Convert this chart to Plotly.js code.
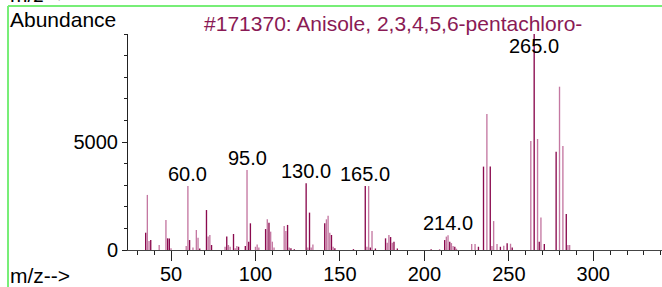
<!DOCTYPE html>
<html>
<head>
<meta charset="utf-8">
<script src="https://cdn.plot.ly/plotly-3.0.1.min.js"></script>
<style>html,body{margin:0;padding:0;background:#fff;}#chart{width:662px;height:287px;}</style>
</head>
<body>
<div id="chart"></div>
<script>
// Spectrum lines drawn in the dark colour
var darkMz  = [35,38,48,49,61,67,71,74,83,87,90,94,96,97,106,108,119,121,123,130,132,141,145,147,158,165,168,171,177,180,182,184,204,212,215,218,232,235,239,245,249,252,265,268,271,278,284];
var darkAb  = [800,460,540,530,460,70,1850,230,620,740,150,185,385,1235,970,1265,1160,80,40,3085,1730,1235,695,80,40,2960,115,70,540,600,385,70,40,460,385,150,150,3860,3860,150,310,120,10000,385,280,4550,1665];
// Spectrum lines drawn in the light colour
var lightMz = [36,37,43,47,50,59,60,63,65,66,72,73,82,84,85,88,89,95,100,101,102,107,109,110,111,117,118,120,131,133,134,142,143,144,146,166,167,169,178,179,181,209,213,214,216,217,219,228,230,237,240,241,243,247,251,263,267,269,280,282,285,286];
var lightAb = [2550,420,230,1390,80,185,2960,120,925,570,620,695,150,230,150,80,185,3700,150,260,120,1420,850,385,120,1110,880,120,120,120,260,1420,1590,800,150,150,2960,880,340,700,340,40,620,680,320,185,60,280,280,6300,185,1340,280,200,290,5045,5140,1510,7560,4815,230,230];
// Labelled peaks
var labelMz = [60,95,130,165,214,265];
var labelAb = [2960,3700,3085,2960,680,10000];
var labelText = ["60.0","95.0","130.0","165.0","214.0","265.0"];

var titleText = "#171370: Anisole, 2,3,4,5,6-pentachloro-";
var yTickVals = [0,5000];
var yTickText = ["0","5000"];

var FONT = "Liberation Sans, Arial, sans-serif";
var DARK = "#8a0a4e";
var LIGHT = "#c478a2";
var YMAX = 10000;

var traces = [
  {type:"bar", x:lightMz, y:lightAb, width:0.8, marker:{color:LIGHT, line:{width:0}}, hoverinfo:"x+y"},
  {type:"bar", x:darkMz, y:darkAb, width:0.8, marker:{color:DARK, line:{width:0}}, hoverinfo:"x+y"}
];

var annotations = labelMz.map(function(m,i){
  return {x:m, y:Math.min(labelAb[i], YMAX-1100), xref:"x", yref:"y", text:labelText[i],
          showarrow:false, xanchor:"center", yanchor:"bottom", yshift:-1,
          font:{family:FONT, size:20, color:"#000"}};
});
annotations.push({xref:"paper", yref:"paper", x:-0.2247, y:1.069, xanchor:"left", yanchor:"middle",
  text:"Abundance", showarrow:false, font:{family:FONT, size:21, color:"#000"}});
annotations.push({xref:"paper", yref:"paper", x:-0.2247, y:-0.118, xanchor:"left", yanchor:"middle",
  text:"m/z-->", showarrow:false, font:{family:FONT, size:21, color:"#000"}});
annotations.push({xref:"paper", yref:"paper", x:-0.2247, y:1.181, xanchor:"left", yanchor:"middle",
  text:"m/z-->", showarrow:false, font:{family:FONT, size:21, color:"#000"}});

var layout = {
  width:662, height:287,
  margin:{l:128, r:0, t:34, b:37, pad:0},
  paper_bgcolor:"#fff", plot_bgcolor:"#fff",
  showlegend:false, barmode:"overlay",
  title:{text:titleText, font:{family:FONT, size:21, color:"#8a1a55"},
         x:0.594, xref:"container", xanchor:"center", y:0.918, yref:"container", yanchor:"middle"},
  xaxis:{range:[24.54,340.67], showgrid:false, zeroline:false, showline:true, linecolor:"#444", linewidth:1,
         tickmode:"linear", tick0:0, dtick:50, ticks:"outside", ticklen:10, tickcolor:"#222", tickwidth:1,
         ticklabelstandoff:-4,
         minor:{dtick:10, tick0:0, ticks:"outside", ticklen:4, tickcolor:"#222", tickwidth:1},
         tickfont:{family:FONT, size:20, color:"#000"}, fixedrange:true},
  yaxis:{range:[0,YMAX], showgrid:false, zeroline:false, showline:true, linecolor:"#222", linewidth:1,
         tickmode:"array", tickvals:yTickVals, ticktext:yTickText, ticks:"outside", ticklen:5, tickcolor:"#222",
         minor:{dtick:1000, tick0:0, ticks:"outside", ticklen:3, tickcolor:"#222"},
         tickfont:{family:FONT, size:20, color:"#000"}, fixedrange:true},
  annotations:annotations,
  shapes:[
    {type:"line", xref:"paper", yref:"paper", x0:-0.2247, x1:1.01, y0:1.1296, y1:1.1296, line:{color:"#77ee77", width:2}},
    {type:"line", xref:"paper", yref:"paper", x0:-0.2247, x1:-0.2247, y0:1.1296, y1:-0.2, line:{color:"#77ee77", width:2}}
  ]
};

Plotly.newPlot("chart", traces, layout, {displayModeBar:false, staticPlot:true});
</script>
</body>
</html>
